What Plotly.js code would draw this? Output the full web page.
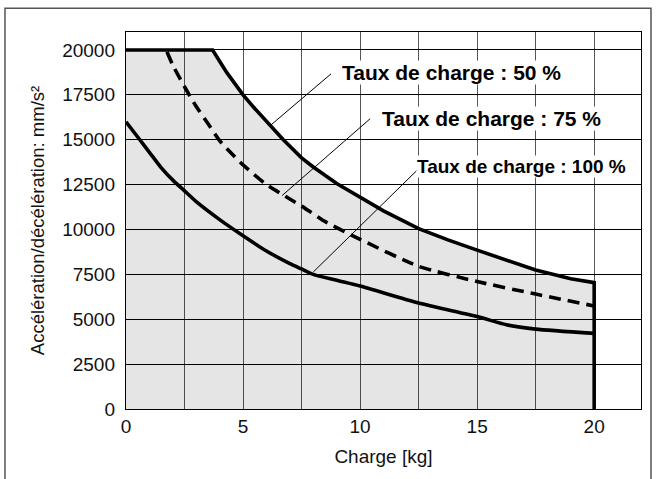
<!DOCTYPE html>
<html>
<head>
<meta charset="utf-8">
<script src="https://cdn.plot.ly/plotly-3.0.1.min.js"></script>
<style>html,body{margin:0;padding:0;background:#fff;}#chart{width:656px;height:479px;}</style>
</head>
<body>
<div id="chart"></div>
<script>
// Data
const load50 = [0, 3.7, 4.3, 5, 5.5, 6, 6.72, 7.5, 8, 9, 10, 11, 12.5, 13.75, 15, 16.25, 17.5, 19, 20, 20];
const acc50  = [20000, 20000, 18750, 17500, 16740, 16030, 15000, 13990, 13480, 12560, 11780, 11040, 10050, 9420, 8850, 8280, 7740, 7250, 7040, 0];

const load75 = [1.75, 2, 2.5, 3, 3.5, 4, 4.5, 5, 6, 7, 7.5, 8.5, 10, 12.5, 15, 17.5, 20];
const acc75  = [19900, 19150, 17950, 16850, 15900, 14950, 14250, 13600, 12500, 11700, 11300, 10450, 9450, 7950, 7100, 6400, 5740];

const load100 = [0, 0.5, 1, 1.5, 2, 2.5, 3, 4, 5, 6, 7, 7.5, 8, 9, 10, 12.5, 15, 16.25, 17.5, 20];
const acc100  = [16000, 15150, 14300, 13450, 12750, 12150, 11550, 10550, 9650, 8800, 8100, 7800, 7500, 7170, 6850, 5900, 5150, 4690, 4450, 4210];

const labels = ["Taux de charge : 50 %", "Taux de charge : 75 %", "Taux de charge : 100 %"];
const labelPos = [[9.2, 18720], [10.9, 16170], [12.4, 13500]];
const leaderFrom = [[8.76, 18670], [10.43, 16170], [12.42, 13280]];
const leaderTo = [[6.2, 15830], [6.67, 11890], [8.0, 7630]];

const xTicks = [0, 5, 10, 15, 20];

const FONT = "Liberation Sans, Arial, Helvetica, sans-serif";

const traces = [
  {x: load50, y: acc50, mode: "lines", fill: "tozeroy", fillcolor: "rgba(0,0,0,0.1)",
   line: {color: "#000", width: 3.6}, name: labels[0]},
  {x: load75, y: acc75, mode: "lines", line: {color: "#000", width: 3.6, dash: "12px,7px", shape: "spline", smoothing: 0.6},
   name: labels[1]},
  {x: load100, y: acc100, mode: "lines", line: {color: "#000", width: 3.6, shape: "spline", smoothing: 0.6},
   name: labels[2]}
];

const annotations = labels.map((t, i) => ({
  x: labelPos[i][0], y: labelPos[i][1], xref: "x", yref: "y",
  text: "<b>" + t + "</b>", showarrow: false, xanchor: "left", yanchor: "middle",
  bgcolor: "#fff", borderpad: 0,
  font: {family: FONT, size: i === 2 ? 19 : 21, color: "#000"}
}));

const shapes = leaderFrom.map((p, i) => ({
  type: "line", xref: "x", yref: "y",
  x0: p[0], y0: p[1], x1: leaderTo[i][0], y1: leaderTo[i][1],
  line: {color: "#000", width: 1}
}));
shapes.push({type: "rect", xref: "paper", yref: "paper",
  x0: -0.235, x1: 1.0194, y0: -0.3, y1: 1.0628,
  line: {color: "#555", width: 1.5}, layer: "above"});

const layout = {
  width: 656, height: 479,
  margin: {l: 126, r: 15, t: 32, b: 70},
  paper_bgcolor: "#fff", plot_bgcolor: "#fff",
  showlegend: false,
  font: {family: FONT, size: 19, color: "#111"},
  xaxis: {
    range: [0, 22], tickvals: xTicks, showgrid: false,
    minor: {dtick: 2.5, tick0: 0, showgrid: true, gridcolor: "#555", gridwidth: 1},
    zeroline: false, showline: true, mirror: true, linecolor: "#000", linewidth: 1.2,
    ticks: "", ticklabelstandoff: 0,
    tickfont: {family: FONT, size: 19, color: "#111"},
    title: {text: "Charge [kg]", font: {family: FONT, size: 19, color: "#111"}, standoff: 13}
  },
  yaxis: {
    range: [0, 21000], dtick: 2500, tick0: 0, tickformat: "d", showgrid: true, gridcolor: "#000", gridwidth: 1,
    zeroline: false, showline: true, mirror: true, linecolor: "#000", linewidth: 1.2,
    ticks: "", ticklabelstandoff: 6,
    tickfont: {family: FONT, size: 19, color: "#111"},
    title: {text: "Accélération/décélération: mm/s²", font: {family: FONT, size: 18.5, color: "#111"}, standoff: 12}
  },
  annotations: annotations,
  shapes: shapes
};

Plotly.newPlot("chart", traces, layout, {displayModeBar: false, staticPlot: true});
</script>
</body>
</html>
